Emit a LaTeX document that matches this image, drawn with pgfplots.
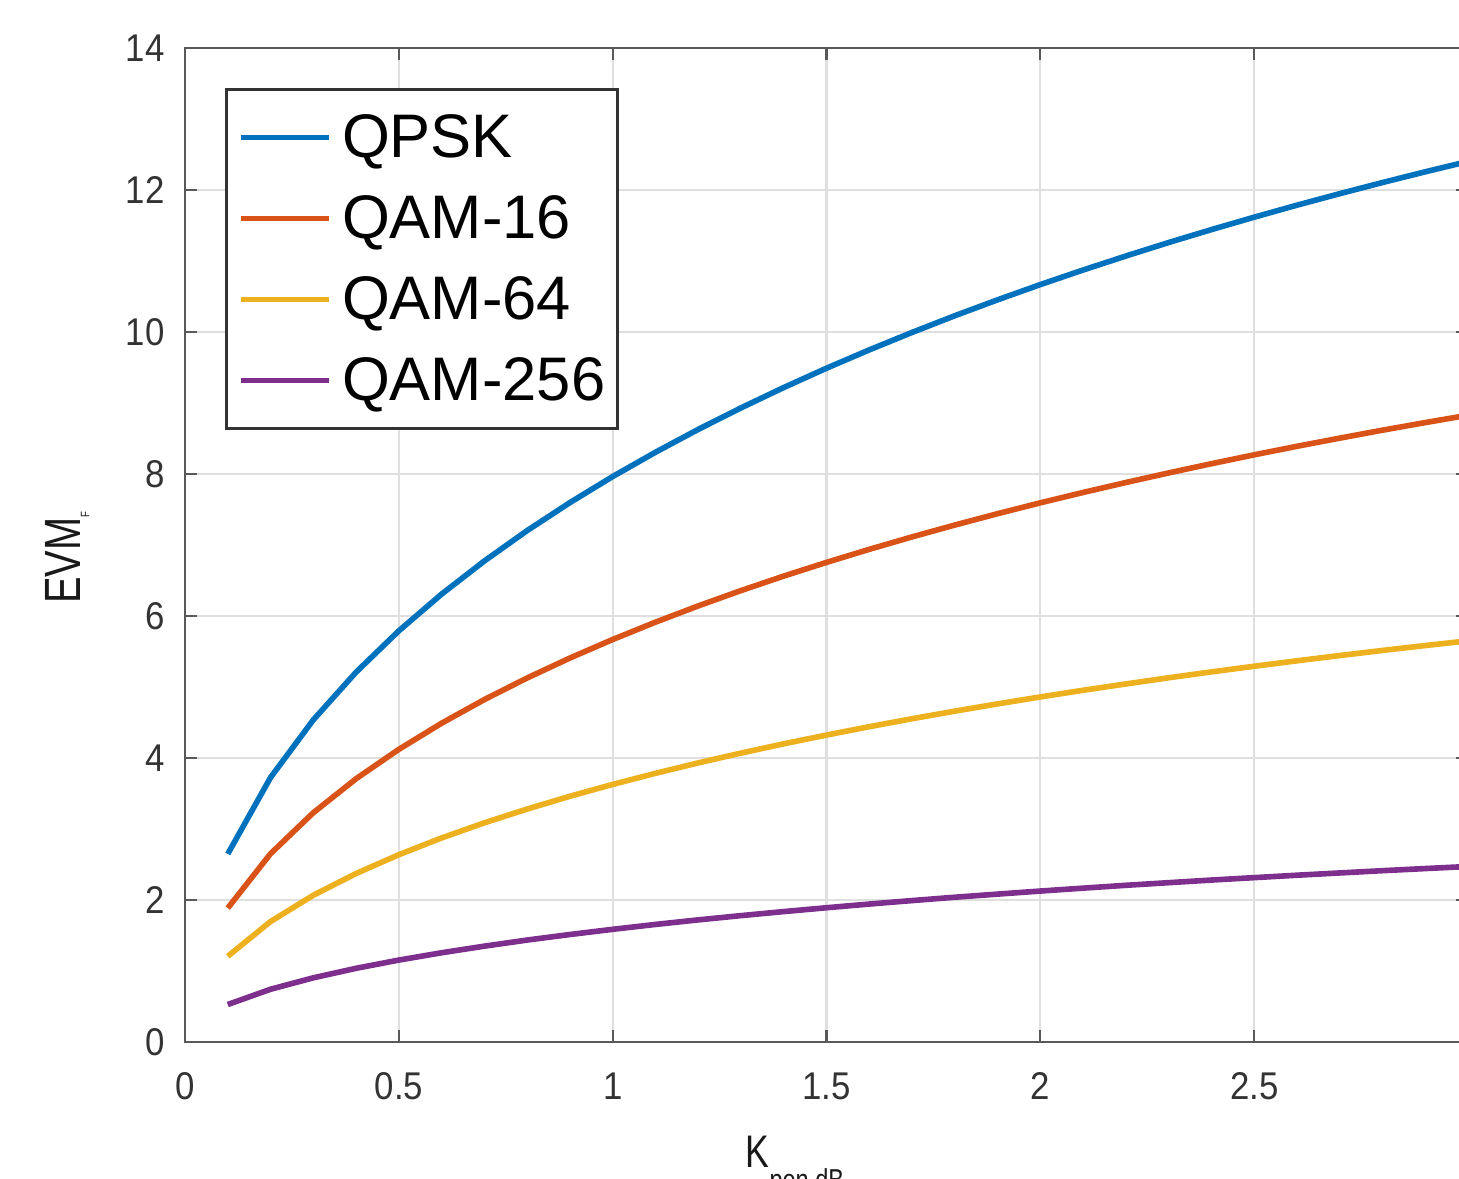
\documentclass[border=0pt]{standalone}
\usepackage{fontspec}
\setmainfont{Liberation Sans}
\newfontfamily\ticksfont[FakeStretch=0.9]{Liberation Sans}
\newfontfamily\labelfont[FakeStretch=0.78]{Liberation Sans}
\usepackage{pgfplots}
\usepackage{pgfplotstable}
\pgfplotsset{compat=1.18}

\definecolor{mblue}{HTML}{0072BD}
\definecolor{morange}{HTML}{D95319}
\definecolor{myellow}{HTML}{EDB120}
\definecolor{mpurple}{HTML}{7E2F8E}

% EVM_F vs K_pen,dB
\pgfplotstableread{
K    qpsk    qam16  qam64  qam256
0.1  2.649   1.886  1.207  0.528
0.2  3.725   2.652  1.697  0.743
0.3  4.537   3.229  2.067  0.904
0.4  5.209   3.708  2.373  1.038
0.5  5.791   4.122  2.638  1.154
0.6  6.308   4.490  2.874  1.257
0.7  6.775   4.823  3.087  1.350
0.8  7.203   5.127  3.281  1.436
0.9  7.597   5.408  3.461  1.514
1.0  7.964   5.669  3.628  1.587
1.1  8.306   5.913  3.784  1.656
1.2  8.628   6.142  3.931  1.720
1.3  8.931   6.358  4.069  1.780
1.4  9.218   6.562  4.200  1.837
1.5  9.490   6.755  4.323  1.891
1.6  9.748   6.939  4.441  1.943
1.7  9.994   7.114  4.553  1.992
1.8  10.229  7.281  4.660  2.039
1.9  10.453  7.441  4.762  2.083
2.0  10.668  7.594  4.860  2.126
2.1  10.873  7.740  4.954  2.167
2.2  11.070  7.880  5.043  2.207
2.3  11.260  8.015  5.130  2.244
2.4  11.442  8.145  5.213  2.281
2.5  11.617  8.270  5.292  2.315
2.6  11.786  8.390  5.369  2.349
2.7  11.948  8.505  5.443  2.381
2.8  12.105  8.617  5.515  2.413
2.9  12.256  8.724  5.584  2.443
3.0  12.402  8.828  5.650  2.472
}\evmdata

\begin{document}
\begin{tikzpicture}
\begin{axis}[
  at={(0,0)}, anchor=south west,
  width=12.83cm, height=9.94cm, scale only axis,
  xmin=0, xmax=3, ymin=0, ymax=14,
  xtick={0,0.5,1,1.5,2,2.5,3},
  xticklabels={0,0.5,1,1.5,2,2.5,3},
  ytick={0,2,4,6,8,10,12,14},
  yticklabels={0,2,4,6,8,10,12,14},
  tick align=inside, major tick length=1.2mm,
  tick style={black!65, line width=0.6pt},
  axis line style={black!65, line width=0.8pt},
  grid=major, major grid style={gray!25, line width=0.6pt},
  ticklabel style={font=\ticksfont\fontsize{11}{12}\selectfont, text=black!80},
  xticklabel style={yshift=-1.8mm},
  yticklabel style={xshift=-0.8mm},
  xlabel={K\raisebox{-2.3mm}{\fontsize{8.6}{9}\selectfont pen,dB}},
  xlabel style={at={(axis description cs:0.4365,-0.0936)}, anchor=north west,
    inner sep=0pt, font=\labelfont\fontsize{13}{15}\selectfont, text=black!90},
  ylabel={EVM\raisebox{-0.9mm}{\fontsize{3.5}{4}\selectfont F}},
  ylabel style={at={(axis description cs:-0.074,0.487)}, anchor=south,
    inner sep=0pt, font=\labelfont\fontsize{14.5}{16}\selectfont, text=black!90},
  legend entries={QPSK,QAM-16,QAM-64,QAM-256},
  legend cell align=left,
  legend image code/.code={\draw[#1] (0cm,0cm) -- (0.88cm,0cm);},
  legend style={at={(axis description cs:0.0312,0.9598)}, anchor=north west,
    draw=black!80, line width=0.8pt, fill=white,
    font=\fontsize{17.5}{20}\selectfont,
    nodes={inner sep=0pt, text height=4.6mm, text depth=0.6mm},
    row sep=2.9mm, column sep=1mm, inner xsep=1.2mm, inner ysep=2.2mm},
]
\addplot[mblue, line width=1.6pt] table[x=K, y=qpsk] {\evmdata};
\addplot[morange, line width=1.6pt] table[x=K, y=qam16] {\evmdata};
\addplot[myellow, line width=1.6pt] table[x=K, y=qam64] {\evmdata};
\addplot[mpurple, line width=1.6pt] table[x=K, y=qam256] {\evmdata};
\end{axis}
\pgfresetboundingbox
\path[use as bounding box] (-1.85,-1.36) rectangle (12.74,10.42);
\end{tikzpicture}
\end{document}
